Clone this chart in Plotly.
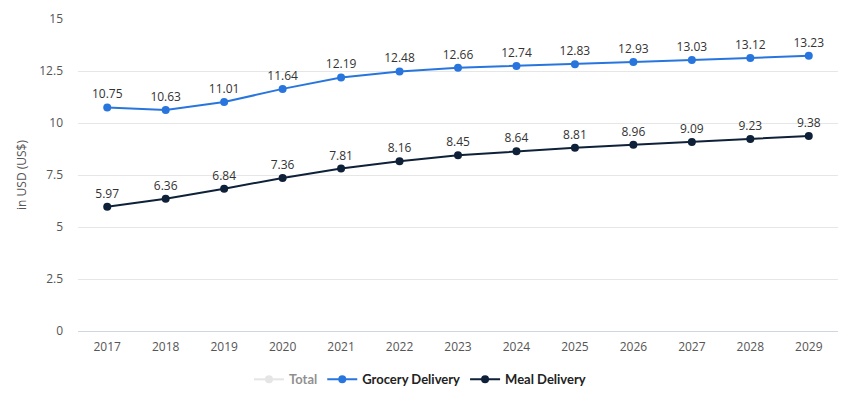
import plotly.graph_objects as go

years = [str(y) for y in range(2017, 2030)]
grocery = [10.75, 10.63, 11.01, 11.64, 12.19, 12.48, 12.66, 12.74, 12.83, 12.93, 13.03, 13.12, 13.23]
meal = [5.97, 6.36, 6.84, 7.36, 7.81, 8.16, 8.45, 8.64, 8.81, 8.96, 9.09, 9.23, 9.38]
total = [None] * len(years)
ytick_vals = [0, 2.5, 5, 7.5, 10, 12.5, 15]
ytick_text = ["0", "2.5", "5", "7.5", "10", "12.5", "15"]

FONT = "Open Sans"
LFONT = "Lato"
fig = go.Figure()
fig.add_trace(go.Scatter(x=years, y=total, name="Total", mode="lines+markers",
                         line=dict(color="#cccccc", width=2), marker=dict(size=8, color="#cccccc"),
                         visible="legendonly"))
fig.add_trace(go.Scatter(
    x=years, y=grocery, name="Grocery Delivery", mode="lines+markers+text",
    line=dict(color="#2876dd", width=2), marker=dict(size=8, color="#2876dd"),
    text=[f"{v:.2f}" for v in grocery], textposition="top center",
    textfont=dict(family=FONT, size=12, color="#333333"), cliponaxis=False))
fig.add_trace(go.Scatter(
    x=years, y=meal, name="Meal Delivery", mode="lines+markers+text",
    line=dict(color="#0f2139", width=2), marker=dict(size=8, color="#0f2139"),
    text=[f"{v:.2f}" for v in meal], textposition="top center",
    textfont=dict(family=FONT, size=12, color="#333333"), cliponaxis=False))

fig.update_layout(
    width=849, height=388, paper_bgcolor="white", plot_bgcolor="white",
    margin=dict(l=70, r=19, t=11, b=65, autoexpand=False),
    font=dict(family=FONT, size=12, color="#555555"),
    showlegend=True,
    legend=dict(orientation="h", x=0.45, xanchor="center", y=-0.155, yanchor="middle",
                font=dict(family=LFONT, size=13, color="#222222", weight="bold"),
                itemwidth=30),
    xaxis=dict(type="category", range=[-0.5, len(years) - 0.5], showgrid=False,
               showline=True, linecolor="#cfd6e0", ticks="", automargin=False,
               ticklabelstandoff=5, tickfont=dict(size=12, color="#555555")),
    yaxis=dict(range=[0, 15], tickvals=ytick_vals, ticktext=ytick_text, automargin=False,
               showgrid=True, gridcolor="#e6e6e6", zeroline=False, showline=False,
               tickfont=dict(size=12, color="#555555"), ticklabelstandoff=14,
               title=dict(text="in USD (US$)", font=dict(size=12, color="#555555"),
                          standoff=10)),
)
fig.write_html("out.html")
